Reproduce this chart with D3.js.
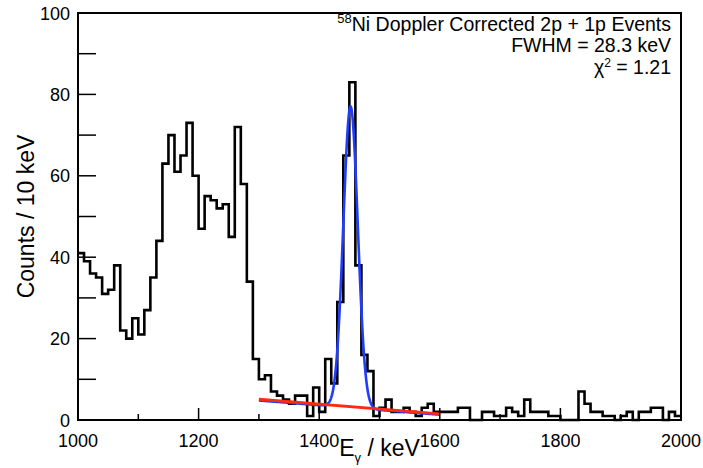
<!DOCTYPE html>
<html>
<head>
<meta charset="utf-8">
<script src="https://cdn.jsdelivr.net/npm/d3@7/dist/d3.min.js"></script>
<style>
  html, body { margin: 0; padding: 0; background: #fff; }
  svg { display: block; }
  text { font-family: "Liberation Sans", Arial, Helvetica, sans-serif; fill: #000; }
</style>
</head>
<body>
<svg id="chart" width="703" height="468"></svg>
<script>
// Histogram binning (keV)
const binStart = 1000;
const binWidth = 10;

// Counts per 10 keV bin, 1000–2000 keV
const counts = [
  41, 39, 36, 35, 31, 32, 38, 22, 20, 25,
  21, 27, 35, 44, 63, 70, 61, 65, 73, 60,
  47, 55, 54, 52, 53, 45, 72, 58, 34, 15,
  10, 11, 7, 6, 5, 4, 6, 6, 1, 8,
  2, 15, 9, 29, 65, 83, 38, 16, 12, 1,
  3, 5, 2, 2, 3, 2, 1, 3, 4, 2,
  2, 2, 2, 3, 3, 0, 0, 2, 2, 1,
  1, 3, 2, 1, 5, 2, 2, 2, 1, 1,
  0, 0, 0, 7, 4, 2, 2, 1, 1, 0,
  1, 2, 0, 2, 2, 3, 3, 0, 2, 1
];

// Gaussian + linear background fit over 1300–1600 keV
const fitRange = [1300, 1600];
const fitFwhm = 28.3;        // keV
const fitCentroid = 1452;    // keV
const fitAmplitude = 74;     // counts
const fitBackground = [4.8, 1.3];   // counts at 1300 and 1600 keV
// Linear background component drawn on its own
const bgLine = [5.1, 1.5];          // counts at 1300 and 1600 keV

// Axis ticks and labels
const xTicks = [1000, 1100, 1200, 1300, 1400, 1500, 1600, 1700, 1800, 1900, 2000];
const xTickLabels = [1000, 1200, 1400, 1600, 1800, 2000];
const yTicks = [0, 10, 20, 30, 40, 50, 60, 70, 80, 90, 100];
const yTickLabels = [0, 20, 40, 60, 80, 100];

const svg = d3.select("#chart");
const frame = { left: 78, right: 681, top: 13, bottom: 420 };

const x = d3.scaleLinear().domain([1000, 2000]).range([frame.left, frame.right]);
const y = d3.scaleLinear().domain([0, 100]).range([frame.bottom, frame.top]);

// Histogram outline as a step line
const histPts = counts.map((c, i) => [binStart + i * binWidth, c]);
histPts.push([binStart + counts.length * binWidth, counts[counts.length - 1]]);
const stepLine = d3.line().x(d => x(d[0])).y(d => y(d[1])).curve(d3.curveStepAfter);

svg.append("path")
  .attr("d", stepLine(histPts))
  .attr("fill", "none")
  .attr("stroke", "#000")
  .attr("stroke-width", 2.6)
  .attr("stroke-linejoin", "miter");

// Fit function
const sigma = fitFwhm / (2 * Math.sqrt(2 * Math.log(2)));
const lin = (p, e) => p[0] + (p[1] - p[0]) * (e - fitRange[0]) / (fitRange[1] - fitRange[0]);
const fitFn = e => fitAmplitude * Math.exp(-0.5 * Math.pow((e - fitCentroid) / sigma, 2)) + lin(fitBackground, e);
const fitPts = d3.range(fitRange[0], fitRange[1] + 0.5, 0.5).map(e => [e, fitFn(e)]);
const smooth = d3.line().x(d => x(d[0])).y(d => y(d[1]));

svg.append("path")
  .attr("d", smooth(fitPts))
  .attr("fill", "none")
  .attr("stroke", "#1f3cff")
  .attr("stroke-width", 2.6);

svg.append("path")
  .attr("d", smooth(fitRange.map(e => [e, lin(bgLine, e)])))
  .attr("fill", "none")
  .attr("stroke", "#ff2a10")
  .attr("stroke-width", 2.8);

// Frame
svg.append("rect")
  .attr("x", frame.left).attr("y", frame.top)
  .attr("width", frame.right - frame.left).attr("height", frame.bottom - frame.top)
  .attr("fill", "none").attr("stroke", "#000").attr("stroke-width", 2);

// Ticks point into the frame
const axes = svg.append("g");
axes.selectAll("line.xt").data(xTicks).join("line")
  .attr("x1", d => x(d)).attr("x2", d => x(d))
  .attr("y1", frame.bottom).attr("y2", d => frame.bottom - (d % 200 === 0 ? 12 : 6))
  .attr("stroke", "#000").attr("stroke-width", 1.5);
axes.selectAll("line.yt").data(yTicks).join("line")
  .attr("x1", frame.left).attr("x2", frame.left + 18)
  .attr("y1", d => y(d)).attr("y2", d => y(d))
  .attr("stroke", "#000").attr("stroke-width", 1.5);

axes.selectAll("text.xl").data(xTickLabels).join("text")
  .attr("x", d => x(d)).attr("y", 447)
  .attr("text-anchor", "middle")
  .attr("font-size", 18)
  .text(d => d);
axes.selectAll("text.yl").data(yTickLabels).join("text")
  .attr("x", 70).attr("y", d => y(d) + 6.5)
  .attr("text-anchor", "end")
  .attr("font-size", 18)
  .text(d => d);

// Axis titles
const xt = svg.append("text")
  .attr("x", (frame.left + frame.right) / 2).attr("y", 456)
  .attr("text-anchor", "middle")
  .attr("font-size", 23);
xt.append("tspan").text("E");
xt.append("tspan").attr("font-size", 13).attr("dy", 6).text("γ");
xt.append("tspan").attr("dy", -6).text(" / keV");

svg.append("text")
  .attr("transform", `translate(34,${(frame.top + frame.bottom) / 2}) rotate(-90)`)
  .attr("text-anchor", "middle")
  .attr("font-size", 23)
  .text("Counts / 10 keV");

// Annotation
const ann = svg.append("g").attr("font-size", 19.5);
const l1 = ann.append("text").attr("x", 671).attr("y", 31).attr("text-anchor", "end");
l1.append("tspan").attr("font-size", 13).attr("dy", -8).text("58");
l1.append("tspan").attr("dy", 8).text("Ni Doppler Corrected 2p + 1p Events");
ann.append("text").attr("x", 671).attr("y", 52).attr("text-anchor", "end")
  .text(`FWHM = ${fitFwhm} keV`);
const l3 = ann.append("text").attr("x", 671).attr("y", 74).attr("text-anchor", "end");
l3.append("tspan").text("χ");
l3.append("tspan").attr("font-size", 12).attr("dy", -7).text("2");
l3.append("tspan").attr("dy", 7).text(" = 1.21");
</script>
</body>
</html>
